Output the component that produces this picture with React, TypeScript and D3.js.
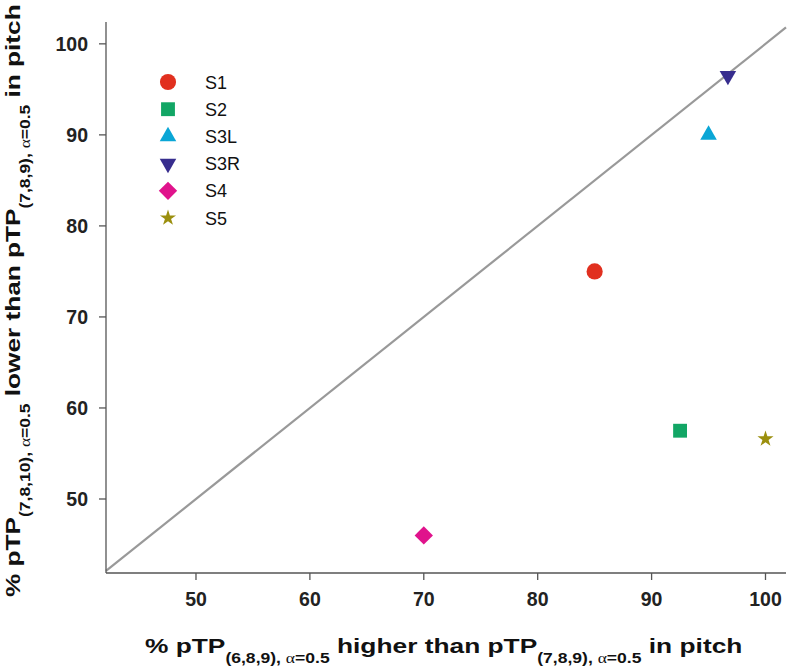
import React, { useLayoutEffect, useRef } from "react";
import * as d3 from "d3";

const series = ["S1", "S2", "S3L", "S3R", "S4", "S5"];
const xValues = [85, 92.5, 95, 96.7, 70, 100];
const yValues = [75, 57.5, 90, 96.5, 46, 56.6];
const colors = ["#E1301F", "#12A665", "#0AA6D6", "#372D8E", "#E0138C", "#9B8F0E"];
const shapes = ["circle", "square", "triangle", "triangleDown", "diamond", "star"];
const xTicks = [50, 60, 70, 80, 90, 100];
const yTicks = [50, 60, 70, 80, 90, 100];

const W = 789;
const H = 668;
const left = 106, right = 786, top = 22, bottom = 573;

function markerPath(shape: string): { d: string; rot: number } {
  switch (shape) {
    case "circle":
      return { d: d3.symbol(d3.symbolCircle, 205)()!, rot: 0 };
    case "square":
      return { d: d3.symbol(d3.symbolSquare, 192)()!, rot: 0 };
    case "triangle":
      return { d: d3.symbol(d3.symbolTriangle, 118)()!, rot: 0 };
    case "triangleDown":
      return { d: d3.symbol(d3.symbolTriangle, 118)()!, rot: 180 };
    case "diamond":
      return { d: d3.symbol(d3.symbolSquare, 168)()!, rot: 45 };
    default:
      return { d: d3.symbol(d3.symbolStar, 80)()!, rot: 0 };
  }
}

function TitleContent({ a, b, c, shift }: { a: string; b: string; c: string; shift: number }) {
  const sub = (t: string) => (
    <>
      <tspan fontSize={14} dy={shift}>{t}, </tspan>
      <tspan fontSize={14} fontFamily="'Liberation Serif', serif" fontWeight="normal">α</tspan>
      <tspan fontSize={14}>=0.5</tspan>
    </>
  );
  return (
    <>
      <tspan>% pTP</tspan>
      {sub(a)}
      <tspan dy={-shift}>{b}</tspan>
      {sub("(7,8,9)")}
      <tspan dy={-shift}>{c}</tspan>
    </>
  );
}

export default function App() {
  const x = d3.scaleLinear().domain([42.1, 101.8]).range([left, right]);
  const y = d3.scaleLinear().domain([41.87, 102.4]).range([bottom, top]);
  const axisColor = "#555";
  const dMin = Math.max(x.domain()[0], y.domain()[0]);
  const dMax = Math.min(x.domain()[1], y.domain()[1]);
  const lineGen = d3.line<number>().x((v) => x(v)).y((v) => y(v));

  const xTitleRef = useRef<SVGTextElement>(null);
  const yTitleRef = useRef<SVGTextElement>(null);

  useLayoutEffect(() => {
    const xt = xTitleRef.current;
    if (xt) {
      const w = xt.getBBox().width;
      const s = w > 0 ? 598 / w : 1;
      xt.setAttribute("transform", `translate(145,653) scale(${s},1)`);
    }
    const yt = yTitleRef.current;
    if (yt) {
      const w = yt.getBBox().width;
      const s = w > 0 ? 593 / w : 1;
      yt.setAttribute("transform", `translate(20,597) rotate(-90) scale(${s},1)`);
    }
  }, []);

  return (
    <svg
      width={W}
      height={H}
      style={{ position: "absolute", left: 0, top: 0, background: "#fff" }}
      fontFamily="'Liberation Sans', Arial, sans-serif"
    >
      <path d={lineGen([dMin, dMax])!} stroke="#999" strokeWidth={2.2} fill="none" />
      <line x1={left} x2={left} y1={top} y2={bottom} stroke={axisColor} strokeWidth={1.3} />
      <line x1={left} x2={right} y1={bottom} y2={bottom} stroke={axisColor} strokeWidth={1.3} />
      {xTicks.map((t) => (
        <g key={"x" + t}>
          <line x1={x(t)} x2={x(t)} y1={bottom} y2={bottom + 7} stroke={axisColor} strokeWidth={1.3} />
          <text x={x(t)} y={606} textAnchor="middle" fontSize={19.5} fontWeight="bold" fill="#222">
            {t}
          </text>
        </g>
      ))}
      {yTicks.map((t) => (
        <g key={"y" + t}>
          <line x1={left - 7} x2={left} y1={y(t)} y2={y(t)} stroke={axisColor} strokeWidth={1.3} />
          <text x={88} y={y(t) + 7} textAnchor="end" fontSize={19.5} fontWeight="bold" fill="#222">
            {t}
          </text>
        </g>
      ))}
      <text ref={xTitleRef} transform="translate(145,653)" fontSize={21} fontWeight="bold" fill="#111">
        <TitleContent a="(6,8,9)" b=" higher than pTP" c=" in pitch" shift={10} />
      </text>
      <text ref={yTitleRef} transform="translate(20,597) rotate(-90)" fontSize={21} fontWeight="bold" fill="#111">
        <TitleContent a="(7,8,10)" b=" lower than pTP" c=" in pitch" shift={10} />
      </text>
      {series.map((s, i) => {
        const m = markerPath(shapes[i]);
        return (
          <path
            key={"p" + s}
            d={m.d}
            fill={colors[i]}
            transform={`translate(${x(xValues[i])},${y(yValues[i])}) rotate(${m.rot})`}
          />
        );
      })}
      {series.map((s, i) => {
        const m = markerPath(shapes[i]);
        const ly = 82 + i * 27.2;
        return (
          <g key={"l" + s}>
            <path d={m.d} fill={colors[i]} transform={`translate(168,${ly}) rotate(${m.rot})`} />
            <text x={205} y={ly + 6.5} fontSize={18} fill="#111">
              {s}
            </text>
          </g>
        );
      })}
    </svg>
  );
}
